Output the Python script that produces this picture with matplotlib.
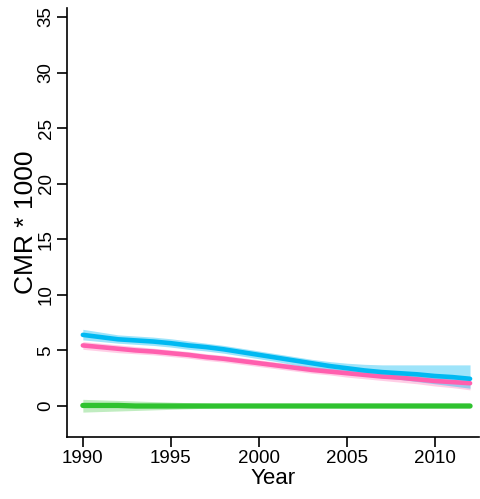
import matplotlib
matplotlib.use("Agg")
import matplotlib.pyplot as plt
import numpy as np

plt.rcParams['font.family'] = ['Liberation Sans', 'DejaVu Sans']

years = np.arange(1990, 2013)

# CMR * 1000
cmr_blue = [6.4, 6.2, 6.0, 5.9, 5.8, 5.65, 5.45, 5.3, 5.1, 4.85, 4.6, 4.35,
            4.1, 3.85, 3.6, 3.4, 3.2, 3.05, 2.95, 2.85, 2.7, 2.6, 2.45]
blue_lo = [5.95, 5.8, 5.65, 5.55, 5.45, 5.3, 5.1, 4.95, 4.75, 4.5, 4.25, 4.0,
           3.7, 3.45, 3.2, 2.95, 2.75, 2.55, 2.4, 2.2, 2.0, 1.8, 1.6]
blue_hi = [6.9, 6.65, 6.4, 6.3, 6.2, 6.05, 5.85, 5.65, 5.45, 5.2, 4.95, 4.7,
           4.45, 4.2, 4.0, 3.85, 3.75, 3.7, 3.7, 3.7, 3.7, 3.7, 3.7]

cmr_pink = [5.45, 5.3, 5.15, 5.0, 4.9, 4.75, 4.6, 4.4, 4.25, 4.05, 3.85, 3.65,
            3.45, 3.25, 3.1, 2.95, 2.8, 2.65, 2.55, 2.4, 2.25, 2.15, 2.05]
pink_lo = [5.1, 4.95, 4.8, 4.7, 4.6, 4.45, 4.3, 4.1, 3.95, 3.75, 3.55, 3.35,
           3.15, 2.95, 2.8, 2.6, 2.45, 2.3, 2.15, 2.0, 1.8, 1.65, 1.45]
pink_hi = [5.8, 5.65, 5.5, 5.35, 5.2, 5.05, 4.9, 4.7, 4.55, 4.35, 4.15, 3.95,
           3.75, 3.55, 3.4, 3.25, 3.1, 2.95, 2.85, 2.75, 2.65, 2.55, 2.5]

cmr_green = [0.05, 0.05, 0.05, 0.0, 0.0, 0.0, 0.0, 0.0, 0.0, 0.0, 0.0, 0.0,
             0.0, 0.0, 0.0, 0.0, 0.0, 0.0, 0.0, 0.0, 0.0, 0.0, 0.0]
green_lo = [-0.55, -0.5, -0.45, -0.4, -0.35, -0.3, -0.25, -0.2, -0.15, -0.12, -0.1, -0.1,
            -0.1, -0.1, -0.1, -0.1, -0.1, -0.1, -0.1, -0.1, -0.1, -0.1, -0.1]
green_hi = [0.6, 0.55, 0.5, 0.45, 0.4, 0.35, 0.3, 0.25, 0.2, 0.15, 0.12, 0.1,
            0.1, 0.1, 0.1, 0.1, 0.1, 0.1, 0.1, 0.1, 0.1, 0.1, 0.1]

blue = '#00B9F2'
pink = '#FF5FAE'
green = '#2FC22F'

fig = plt.figure(figsize=(4.8, 4.99), dpi=100)
ax = fig.add_axes([0.1396, 0.1242, 0.858, 0.8597])

ax.fill_between(years, pink_lo, pink_hi, color=pink, alpha=0.3, lw=0)
ax.plot(years, cmr_pink, color=pink, lw=3.3, solid_capstyle='round')
ax.fill_between(years, blue_lo, blue_hi, color=blue, alpha=0.38, lw=0)
ax.plot(years, cmr_blue, color=blue, lw=3.3, solid_capstyle='round')
ax.fill_between(years, green_lo, green_hi, color=green, alpha=0.3, lw=0)
ax.plot(years, cmr_green, color=green, lw=3.8, solid_capstyle='round')

ax.set_xlim(1989.1, 2012.5)
ax.set_ylim(-2.79, 35.8)
ax.set_xticks([1990, 1995, 2000, 2005, 2010])
ax.set_yticks(range(0, 36, 5))
for lbl in ax.get_yticklabels():
    lbl.set_rotation(90)
    lbl.set_va('center')

ax.spines['top'].set_visible(False)
ax.spines['right'].set_visible(False)
for s in ['left', 'bottom']:
    ax.spines[s].set_linewidth(1.2)
ax.tick_params(direction='out', length=7, width=1.2, labelsize=13.5, pad=2)

ax.set_xlabel('Year', fontsize=16, labelpad=1)
ax.set_ylabel('CMR * 1000', fontsize=19, labelpad=0)

fig.savefig('out.png', dpi=100)
